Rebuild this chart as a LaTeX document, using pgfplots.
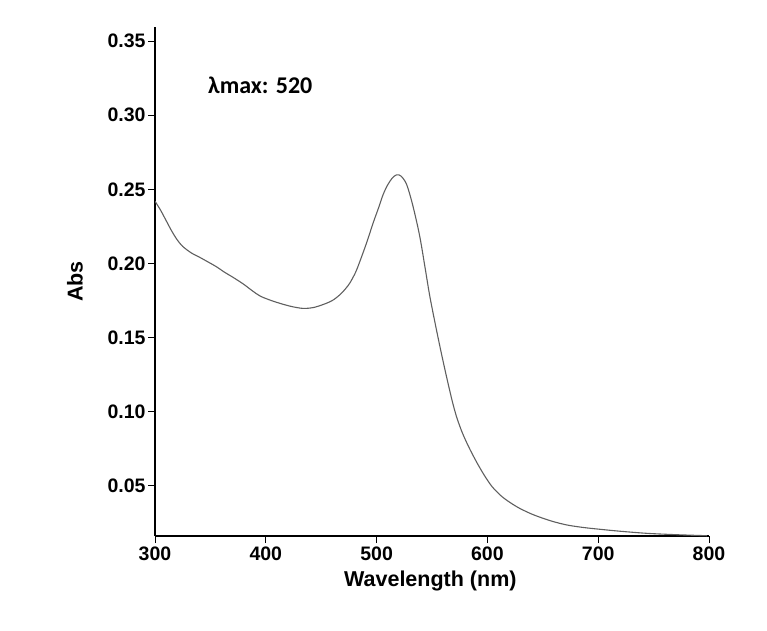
\documentclass[border=0pt]{standalone}
\usepackage{fontspec}
\setmainfont{Liberation Sans}
\newfontfamily\carlito{Carlito}
\usepackage{pgfplots}
\pgfplotsset{compat=1.18}
\definecolor{curve}{RGB}{95,95,95}
\begin{document}
\begin{tikzpicture}[x=1pt,y=1pt]
\path[use as bounding box] (0,0) rectangle (767,630);
\begin{axis}[
  at={(155pt,94pt)}, anchor=south west,
  scale only axis, width=554pt, height=509pt,
  xmin=300, xmax=800, ymin=0.0162, ymax=0.3595,
  axis x line*=bottom, axis y line*=left,
  xtick={300,400,500,600,700,800},
  ytick={0.05,0.10,0.15,0.20,0.25,0.30,0.35},
  tick align=outside, major tick length=7pt,
  tick style={black, line width=1pt},
  axis line style={black, line width=1.3pt},
  /pgf/number format/assume math mode=true,
  yticklabel style={/pgf/number format/fixed, /pgf/number format/fixed zerofill, /pgf/number format/precision=2, xshift=1pt},
  ticklabel style={font=\fontsize{19.5}{19.5}\selectfont\bfseries},
  xlabel={Wavelength (nm)},
  ylabel={Abs},
  label style={font=\fontsize{21.5}{21.5}\selectfont\bfseries},
  xlabel style={at={(axis description cs:0.497,-0.0884)}, anchor=center},
  ylabel style={at={(axis description cs:-0.1444,0.5)}, anchor=center, rotate=0},
]
\addplot[curve, line width=1.1pt, smooth, tension=0.5] coordinates {
(300,0.242) (305,0.236) (310,0.229) (315,0.222) (320,0.216) (325,0.2115)
(333,0.207) (340,0.2043) (347,0.2014) (355,0.198) (363,0.194) (371,0.1904)
(380,0.186) (388,0.1815) (395,0.178) (405,0.175) (416,0.1724) (425,0.1707)
(434,0.1697) (443,0.1703) (452,0.1724) (460,0.175) (467,0.179) (472,0.183)
(476,0.187) (481,0.194) (485,0.2016) (491,0.214) (497,0.2276) (502,0.238)
(506,0.2467) (510,0.2530) (514,0.2575) (518,0.2598) (522,0.2590) (527,0.2535)
(532,0.2411) (537,0.2253) (540,0.2140) (544,0.196) (548,0.1780) (553,0.1590)
(558,0.141) (563,0.124) (568,0.108) (572,0.0970) (577,0.0865) (583,0.0765)
(590,0.0664) (597,0.0574) (604,0.0497) (612,0.0435) (620,0.0390) (629,0.0349)
(640,0.0310) (650,0.0282) (660,0.0258) (672,0.0236) (686,0.0220) (702,0.0207)
(720,0.0194) (744,0.0180) (770,0.0171) (798,0.0164)
};
\node[font=\carlito\fontsize{24}{24}\selectfont\bfseries] at (axis cs:395,0.3204) {λmax: 520};
\end{axis}
\end{tikzpicture}
\end{document}
